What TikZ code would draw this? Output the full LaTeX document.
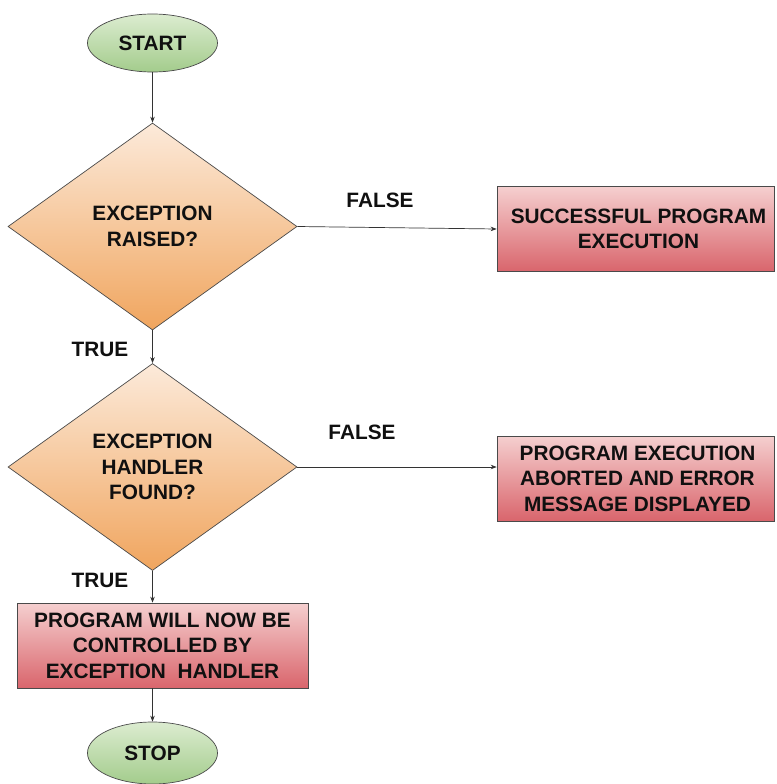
\documentclass[tikz,border=0pt]{standalone}
\usepackage{fontspec}
\setmainfont{Liberation Sans}
\usetikzlibrary{shapes.geometric,arrows.meta}

\definecolor{edge}{HTML}{4A4A4A}
\definecolor{wire}{HTML}{333333}
\definecolor{inktext}{HTML}{101010}
\definecolor{termtop}{HTML}{DCECD0}
\definecolor{termbot}{HTML}{A3CC8C}
\definecolor{decitop}{HTML}{FCEADA}
\definecolor{decibot}{HTML}{F0A55E}
\definecolor{proctop}{HTML}{F5CFCF}
\definecolor{procbot}{HTML}{D9656C}

\begin{document}
\begin{tikzpicture}[x=1pt,y=-1pt,
  every node/.style={font=\fontsize{20.8}{25.5}\selectfont\bfseries,
    text=inktext, align=center},
  terminal/.style={ellipse, draw=edge, line width=0.7pt,
    top color=termtop, bottom color=termbot,
    minimum width=130pt, minimum height=58pt, inner sep=0pt},
  decision/.style={diamond, draw=edge, line width=0.7pt,
    top color=decitop, bottom color=decibot,
    minimum width=289pt, minimum height=207pt, inner sep=0pt},
  process/.style={rectangle, draw=edge, line width=0.7pt,
    top color=proctop, bottom color=procbot,
    minimum height=85pt, inner sep=0pt},
  branch/.style={inner sep=0pt},
  flow/.style={draw=wire, line width=0.7pt,
    -{Stealth[length=6pt,width=4.5pt]}}
]
\useasboundingbox (0,0) rectangle (776,784);

% nodes
\node[terminal] (start) at (152.5,43) {START};
\node[decision] (raised) at (152.5,226.5) {EXCEPTION\\RAISED?};
\node[process, minimum width=277pt] (success) at (635.5,229)
  {\hspace*{6pt}SUCCESSFUL PROGRAM\\\hspace*{6pt}EXECUTION};
\node[decision] (handler) at (152.5,467) {EXCEPTION\\HANDLER\\FOUND?};
\node[process, minimum width=277pt] (aborted) at (635.5,478.5)
  {\hspace*{4pt}PROGRAM EXECUTION\\\hspace*{4pt}ABORTED AND ERROR\\\hspace*{4pt}MESSAGE DISPLAYED};
\node[process, minimum width=291pt] (control) at (162.5,645.5)
  {PROGRAM WILL NOW BE\\CONTROLLED BY\\EXCEPTION\ \ HANDLER};
\node[terminal, minimum height=62pt] (stop) at (152.5,753) {STOP};

% branch labels
\node[branch] (false1) at (380,200) {FALSE};
\node[branch] (false2) at (362,432) {FALSE};
\node[branch] (true1) at (100,349) {TRUE};
\node[branch] (true2) at (100,580) {TRUE};

% connectors
\draw[flow] (start) -- (raised.north);
\draw[flow] (raised.east) -- (success.west);
\draw[flow] (raised.south) -- (handler.north);
\draw[flow] (handler.east) -- (handler.east -| aborted.west);
\draw[flow] (handler.south) -- (handler.south |- control.north);
\draw[flow] (stop.north |- control.south) -- (stop.north);
\end{tikzpicture}
\end{document}
